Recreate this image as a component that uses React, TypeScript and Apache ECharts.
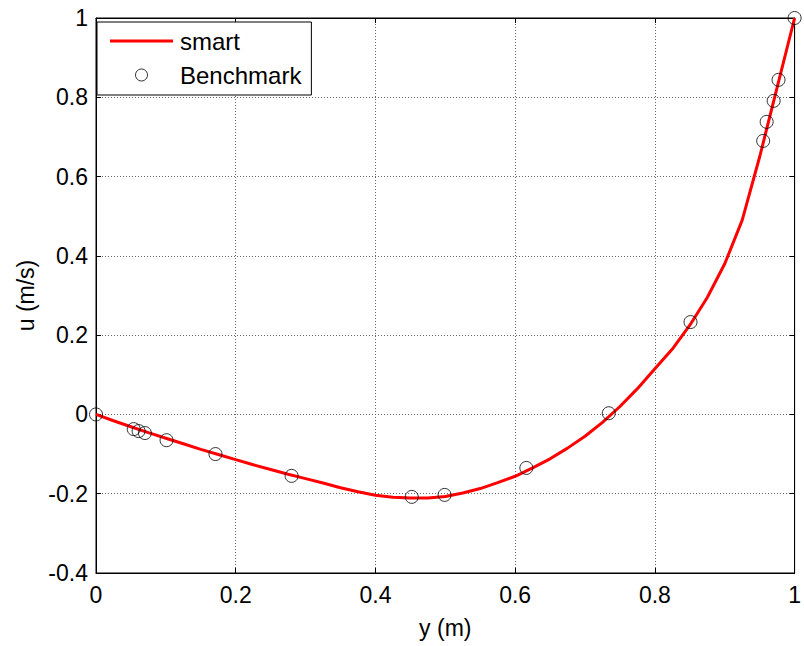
import React, { useEffect, useRef } from "react";
import * as echarts from "echarts";

const smartX = [0, 0.025, 0.05, 0.075, 0.1, 0.125, 0.15, 0.175, 0.2, 0.225, 0.25, 0.275, 0.3, 0.325, 0.35, 0.375, 0.4, 0.425, 0.45, 0.475, 0.5, 0.525, 0.55, 0.575, 0.6, 0.625, 0.65, 0.675, 0.7, 0.725, 0.75, 0.775, 0.8, 0.825, 0.85, 0.875, 0.9, 0.925, 0.95, 0.975, 1.0];
const smartU = [0, -0.016, -0.031, -0.046, -0.060, -0.074, -0.088, -0.101, -0.114, -0.127, -0.139, -0.151, -0.162, -0.173, -0.185, -0.195, -0.204, -0.209, -0.211, -0.211, -0.207, -0.198, -0.187, -0.172, -0.156, -0.135, -0.112, -0.085, -0.055, -0.020, 0.020, 0.065, 0.115, 0.165, 0.225, 0.295, 0.380, 0.490, 0.650, 0.825, 1.0];

const benchX = [0, 0.054, 0.061, 0.070, 0.101, 0.171, 0.280, 0.452, 0.499, 0.616, 0.734, 0.851, 0.955, 0.960, 0.970, 0.977, 1.0];
const benchU = [0, -0.037, -0.042, -0.047, -0.065, -0.100, -0.155, -0.208, -0.203, -0.135, 0.003, 0.233, 0.690, 0.738, 0.791, 0.844, 1.0];

const xTicks = ["0", "0.2", "0.4", "0.6", "0.8", "1"];
const yTicks = ["-0.4", "-0.2", "0", "0.2", "0.4", "0.6", "0.8", "1"];

const FONT = "Liberation Sans, Arial, sans-serif";

export default function App() {
  const ref = useRef<HTMLDivElement>(null);
  useEffect(() => {
    const chart = echarts.init(ref.current!, null, { renderer: "svg" });
    const fmt = (v: number) => String(Math.round(v * 10) / 10);
    const tickStyle = { show: true, inside: true, length: 5, lineStyle: { color: "#000", width: 1 } };
    const gridLine = { show: true, lineStyle: { color: "#666", type: [1, 2], width: 1 } };
    chart.setOption({
      animation: false,
      backgroundColor: "#fff",
      textStyle: { fontFamily: FONT },
      grid: { left: 96, top: 18, right: 4, bottom: 73, show: true, borderColor: "#000", borderWidth: 1, containLabel: false },
      legend: {
        left: 97,
        top: 22,
        orient: "vertical",
        backgroundColor: "#fff",
        borderColor: "#000",
        borderWidth: 1,
        padding: [7, 10, 8, 13],
        itemGap: 10,
        itemWidth: 63,
        itemHeight: 12,
        symbolKeepAspect: true,
        textStyle: { fontFamily: FONT, fontSize: 24, color: "#000", padding: [0, 0, 0, 2] },
        data: [
          { name: "smart", icon: "path://M0,0 H63 V3 H0 Z", itemStyle: { color: "#ff0000" } },
          { name: "Benchmark", icon: "circle", itemStyle: { color: "rgba(255,255,255,0)", borderColor: "#000", borderWidth: 1 } },
        ],
      },
      xAxis: [
        {
          type: "value",
          min: 0,
          max: 1,
          interval: 0.2,
          name: "y (m)",
          nameLocation: "middle",
          nameGap: 43,
          nameTextStyle: { fontFamily: FONT, fontSize: 23, color: "#000", verticalAlign: "top" },
          axisLine: { show: true, onZero: false, lineStyle: { color: "#000", width: 1 } },
          axisTick: tickStyle,
          axisLabel: { fontFamily: FONT, fontSize: 23, color: "#000", margin: 10, formatter: (v: number) => xTicks[Math.round(v / 0.2)] ?? fmt(v) },
          splitLine: gridLine,
        },
        {
          type: "value",
          position: "top",
          min: 0,
          max: 1,
          interval: 0.2,
          axisLine: { show: true, onZero: false, lineStyle: { color: "#000", width: 1 } },
          axisTick: tickStyle,
          axisLabel: { show: false },
          splitLine: { show: false },
        },
      ],
      yAxis: [
        {
          type: "value",
          min: -0.4,
          max: 1,
          interval: 0.2,
          name: "u (m/s)",
          nameLocation: "middle",
          nameGap: 52,
          nameRotate: 90,
          nameTextStyle: { fontFamily: FONT, fontSize: 23, color: "#000" },
          axisLine: { show: true, onZero: false, lineStyle: { color: "#000", width: 1 } },
          axisTick: tickStyle,
          axisLabel: { fontFamily: FONT, fontSize: 23, color: "#000", margin: 8, formatter: (v: number) => yTicks[Math.round((v + 0.4) / 0.2)] ?? fmt(v) },
          splitLine: gridLine,
        },
        {
          type: "value",
          position: "right",
          min: -0.4,
          max: 1,
          interval: 0.2,
          axisLine: { show: true, onZero: false, lineStyle: { color: "#000", width: 1 } },
          axisTick: tickStyle,
          axisLabel: { show: false },
          splitLine: { show: false },
        },
      ],
      series: [
        {
          name: "smart",
          type: "line",
          symbol: "none",
          smooth: false,
          lineStyle: { color: "#ff0000", width: 3 },
          itemStyle: { color: "#ff0000" },
          data: smartX.map((x, i) => [x, smartU[i]]),
          z: 2,
        },
        {
          name: "Benchmark",
          type: "scatter",
          symbol: "circle",
          symbolSize: 13,
          itemStyle: { color: "rgba(255,255,255,0)", borderColor: "#000", borderWidth: 1 },
          data: benchX.map((x, i) => [x, benchU[i]]),
          z: 3,
          clip: false,
        },
      ],
    });
    return () => chart.dispose();
  }, []);
  return <div ref={ref} style={{ width: 804, height: 646, position: "absolute", left: 0, top: 0 }} />;
}
